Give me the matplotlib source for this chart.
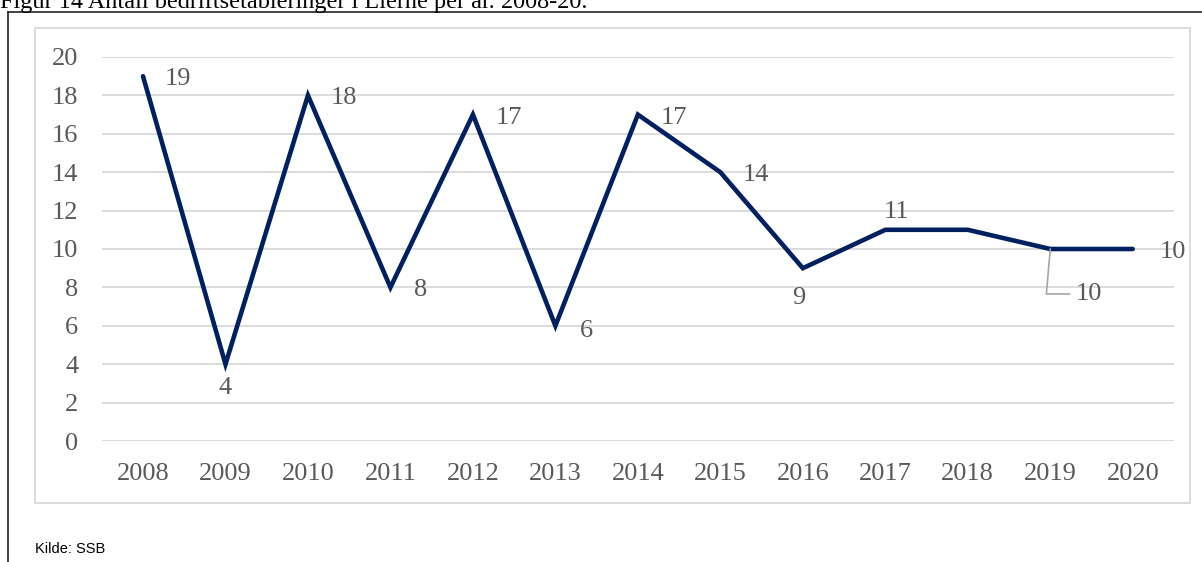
import matplotlib.pyplot as plt
from matplotlib.lines import Line2D
from matplotlib.patches import Rectangle

years = ['2008', '2009', '2010', '2011', '2012', '2013', '2014',
         '2015', '2016', '2017', '2018', '2019', '2020']
values = [19, 4, 18, 8, 17, 6, 17, 14, 9, 11, 11, 10, 10]

# label offsets in pixels (None = no label)
offsets = [(22, -3, 'left'), (0, -24, 'center'), (23, -3, 'left'), (24, -3, 'left'),
           (23, -3, 'left'), (24, -5, 'left'), (23, -3, 'left'), (22, -3, 'left'),
           (-4, -30, 'center'), (11, 18, 'center'), None, None, (27, -3, 'left')]

W, H = 1202, 562
fig = plt.figure(figsize=(W / 100, H / 100), dpi=100)
ax = fig.add_axes([101.75 / W, 1 - 441 / H, (1174 - 101.75) / W, (441 - 57) / H])

x = list(range(len(years)))
ax.plot(x, values, color='#002060', lw=3.3, solid_capstyle='round',
        solid_joinstyle='miter', zorder=3)

ax.set_xlim(-0.5, len(years) - 0.5)
ax.set_ylim(0, 20)
ax.set_yticks(range(0, 21, 2))
ax.set_xticks(x)
ax.set_xticklabels(years)
ax.grid(axis='y', color='#d9d9d9', lw=1.3)
ax.set_axisbelow(True)
for s in ax.spines.values():
    s.set_visible(False)
ax.tick_params(length=0, labelsize=19, labelcolor='#595959')
ax.tick_params(axis='x', pad=16)
ax.tick_params(axis='y', pad=17)
for lab in ax.get_xticklabels() + ax.get_yticklabels():
    lab.set_family('Liberation Serif')

for xi, v, off in zip(x, values, offsets):
    if off is None:
        continue
    dx, dy, ha = off
    ax.annotate(str(v), (xi, v), xytext=(dx, dy), textcoords='offset pixels',
                ha=ha, va='center', fontsize=19, color='#595959',
                family='Liberation Serif')

# 2019 label with leader line
ax.annotate(str(values[11]), (11, values[11]), xytext=(25, -45),
            textcoords='offset pixels', ha='left', va='center', fontsize=19,
            color='#595959', family='Liberation Serif',
            arrowprops=dict(arrowstyle='-', color='#a6a6a6', lw=1.2,
                            shrinkA=2, shrinkB=0, relpos=(0, 0.5),
                            connectionstyle='angle,angleA=0,angleB=85,rad=0'))

# frames
fig.add_artist(Rectangle((35 / W, 1 - 503 / H), (1190 - 35) / W, (503 - 28) / H,
                         transform=fig.transFigure, fill=False,
                         edgecolor='#d9d9d9', lw=1.3))
fig.add_artist(Line2D([8 / W, 8 / W], [0, 1 - 12 / H], transform=fig.transFigure,
                      color='#222222', lw=1.2))
fig.add_artist(Line2D([8 / W, 1], [1 - 12 / H, 1 - 12 / H], transform=fig.transFigure,
                      color='#222222', lw=1.2))

fig.text(0, 1 - 8 / H, 'Figur 14 Antall bedriftsetableringer i Lierne per år. 2008-20.',
         ha='left', va='baseline', fontsize=17.5, family='Liberation Serif',
         color='black')
fig.text(35 / W, 1 - 553 / H, 'Kilde: SSB', ha='left', va='baseline',
         fontsize=10.5, family='Liberation Sans', color='black')

fig.savefig('out.png', dpi=100)
